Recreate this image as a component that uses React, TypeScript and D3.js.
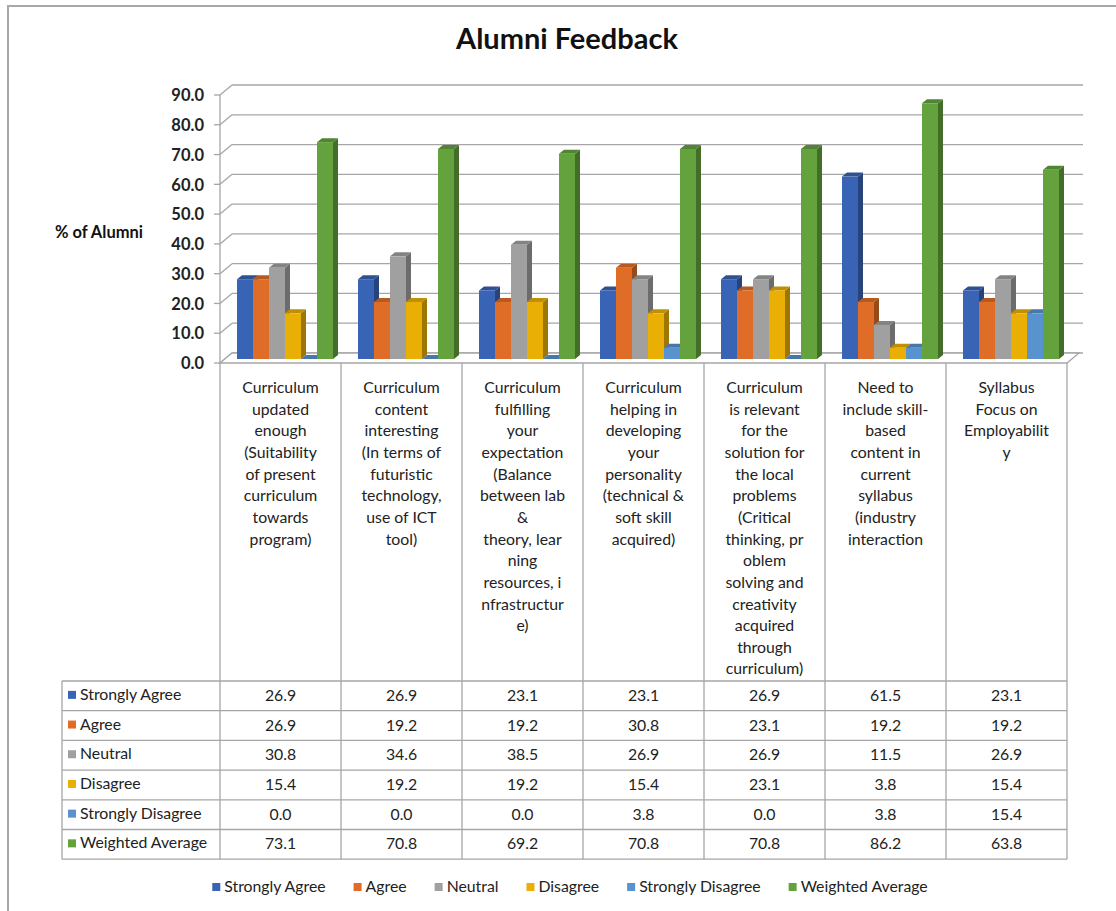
import React, { useEffect, useRef } from "react";
import * as d3 from "d3";

const categories = [
  "Curriculum\nupdated\nenough\n(Suitability\nof present\ncurriculum\ntowards\nprogram)",
  "Curriculum\ncontent\ninteresting\n(In terms of\nfuturistic\ntechnology,\nuse of ICT\ntool)",
  "Curriculum\nfulfilling\nyour\nexpectation\n(Balance\nbetween lab\n&\ntheory, lear\nning\nresources, i\nnfrastructur\ne)",
  "Curriculum\nhelping in\ndeveloping\nyour\npersonality\n(technical &\nsoft skill\nacquired)",
  "Curriculum\nis relevant\nfor the\nsolution for\nthe local\nproblems\n(Critical\nthinking, pr\noblem\nsolving and\ncreativity\nacquired\nthrough\ncurriculum)",
  "Need to\ninclude skill-\nbased\ncontent in\ncurrent\nsyllabus\n(industry\ninteraction",
  "Syllabus\nFocus on\nEmployabilit\ny",
];

const seriesNames = [
  "Strongly Agree",
  "Agree",
  "Neutral",
  "Disagree",
  "Strongly Disagree",
  "Weighted Average",
];

const stronglyAgree = [26.9, 26.9, 23.1, 23.1, 26.9, 61.5, 23.1];
const agree = [26.9, 19.2, 19.2, 30.8, 23.1, 19.2, 19.2];
const neutral = [30.8, 34.6, 38.5, 26.9, 26.9, 11.5, 26.9];
const disagree = [15.4, 19.2, 19.2, 15.4, 23.1, 3.8, 15.4];
const stronglyDisagree = [0.0, 0.0, 0.0, 3.8, 0.0, 3.8, 15.4];
const weightedAverage = [73.1, 70.8, 69.2, 70.8, 70.8, 86.2, 63.8];

const yTicks = [0, 10, 20, 30, 40, 50, 60, 70, 80, 90];

const seriesColors = ["#3963B4", "#E06D27", "#A0A0A0", "#EAAF05", "#5892CF", "#63A23C"];

const FONT = "Lato, 'Open Sans', sans-serif";
const FS = 15.8;

export default function App() {
  const ref = useRef<SVGSVGElement | null>(null);

  useEffect(() => {
    const svg = d3.select(ref.current);
    svg.selectAll("*").remove();

    const series = [stronglyAgree, agree, neutral, disagree, stronglyDisagree, weightedAverage];

    // outer border
    svg.append("rect").attr("x", 8).attr("y", 6).attr("width", 1300).attr("height", 1200)
      .attr("fill", "#fff").attr("stroke", "#a8a8a8").attr("stroke-width", 2);

    // title
    svg.append("text").attr("x", 567).attr("y", 49).attr("text-anchor", "middle")
      .attr("font-family", FONT).attr("font-weight", "bold").attr("font-size", 29)
      .attr("fill", "#111").text("Alumni Feedback");

    // axis title
    svg.append("text").attr("x", 55).attr("y", 238)
      .attr("font-family", FONT).attr("font-weight", "bold").attr("font-size", 16.5)
      .attr("fill", "#111").text("% of Alumni");

    const left = 220, right = 1067;
    const DX = 12, DY = -10;
    const x = d3.scaleBand<number>().domain(d3.range(categories.length)).range([left, right]).paddingInner(0).paddingOuter(0);
    const xs = d3.scaleBand<string>().domain(seriesNames).range([17, 113]);
    const yFront = d3.scaleLinear().domain([0, 90]).range([363, 95]);
    const yBack = d3.scaleLinear().domain([0, 90]).range([363 + DY, 95 + DY]);
    const yBar = d3.scaleLinear().domain([0, 90]).range([359, 92]);

    const gridColor = "#a6a6a6";
    yTicks.forEach((t) => {
      svg.append("line").attr("x1", left + DX).attr("x2", right + DX + 4)
        .attr("y1", yBack(t)).attr("y2", yBack(t))
        .attr("stroke", gridColor).attr("stroke-width", 1.3);
      svg.append("line").attr("x1", left).attr("y1", yFront(t)).attr("x2", left + DX).attr("y2", yBack(t))
        .attr("stroke", gridColor).attr("stroke-width", 1.3);
      svg.append("line").attr("x1", left - 6).attr("x2", left).attr("y1", yFront(t)).attr("y2", yFront(t))
        .attr("stroke", gridColor).attr("stroke-width", 1.3);
      svg.append("text").attr("x", 204).attr("y", yFront(t) + 2).attr("text-anchor", "end")
        .attr("dominant-baseline", "middle")
        .attr("font-family", FONT).attr("font-weight", "bold").attr("font-size", 16.5)
        .attr("fill", "#222").text(d3.format(".1f")(t));
    });
    svg.append("line").attr("x1", left).attr("x2", left).attr("y1", yFront(90)).attr("y2", yFront(0))
      .attr("stroke", gridColor).attr("stroke-width", 1.3);

    // floor
    svg.append("path")
      .attr("d", `M${left},${yFront(0)} L${right},${yFront(0)} L${right + DX},${yBack(0)} L${left + DX},${yBack(0)} Z`)
      .attr("fill", "#fff").attr("stroke", gridColor).attr("stroke-width", 1.3);

    // bars
    const bw = xs.bandwidth();
    const bdx = 5, bdy = -4;
    const base = yBar(0);
    categories.forEach((_, ci) => {
      series.forEach((vals, si) => {
        const v = vals[ci];
        const x0 = (x(ci) as number) + (xs(seriesNames[si]) as number);
        const yt = yBar(v);
        const c = d3.color(seriesColors[si])!;
        const g = svg.append("g");
        g.append("path")
          .attr("d", `M${x0 + bw},${yt} L${x0 + bw + bdx},${yt + bdy} L${x0 + bw + bdx},${base + bdy} L${x0 + bw},${base} Z`)
          .attr("fill", c.darker(1.1).toString());
        g.append("path")
          .attr("d", `M${x0},${yt} L${x0 + bdx},${yt + bdy} L${x0 + bw + bdx},${yt + bdy} L${x0 + bw},${yt} Z`)
          .attr("fill", c.darker(0.55).toString());
        g.append("rect").attr("x", x0).attr("y", yt).attr("width", bw).attr("height", base - yt)
          .attr("fill", seriesColors[si]);
      });
    });

    // category area vertical lines
    const tableTop = 681, rowH = 29.7;
    const tableBottom = tableTop + rowH * seriesNames.length;
    d3.range(categories.length + 1).forEach((i) => {
      const xx = left + i * x.bandwidth();
      svg.append("line").attr("x1", xx).attr("x2", xx).attr("y1", yFront(0)).attr("y2", tableBottom)
        .attr("stroke", gridColor).attr("stroke-width", 1.3);
    });

    // category labels
    categories.forEach((cat, ci) => {
      const cx = (x(ci) as number) + x.bandwidth() / 2;
      const t = svg.append("text").attr("text-anchor", "middle")
        .attr("font-family", FONT).attr("font-size", FS).attr("fill", "#222");
      cat.split("\n").forEach((line, li) => {
        t.append("tspan").attr("x", cx).attr("y", 393 + li * 21.65).text(line);
      });
    });

    // table
    const tLeft = 62;
    d3.range(seriesNames.length + 1).forEach((r) => {
      const yy = tableTop + r * rowH;
      svg.append("line").attr("x1", tLeft).attr("x2", right).attr("y1", yy).attr("y2", yy)
        .attr("stroke", gridColor).attr("stroke-width", 1.3);
    });
    svg.append("line").attr("x1", tLeft).attr("x2", tLeft).attr("y1", tableTop).attr("y2", tableBottom)
      .attr("stroke", gridColor).attr("stroke-width", 1.3);

    seriesNames.forEach((name, si) => {
      const cy = tableTop + si * rowH + rowH / 2;
      svg.append("rect").attr("x", 68).attr("y", cy - 5).attr("width", 8).attr("height", 8)
        .attr("fill", seriesColors[si]);
      svg.append("text").attr("x", 80).attr("y", cy).attr("dominant-baseline", "middle")
        .attr("font-family", FONT).attr("font-size", FS).attr("fill", "#222").text(name);
      series[si].forEach((v, ci) => {
        const cx = (x(ci) as number) + x.bandwidth() / 2;
        svg.append("text").attr("x", cx).attr("y", cy + 1).attr("text-anchor", "middle")
          .attr("dominant-baseline", "middle")
          .attr("font-family", FONT).attr("font-size", FS).attr("fill", "#222")
          .text(d3.format(".1f")(v));
      });
    });

    // legend
    const legendY = 888;
    let lx = 205;
    const gap = 28;
    const lg = svg.append("g");
    seriesNames.forEach((name, si) => {
      lg.append("rect").attr("x", lx).attr("y", legendY - 5).attr("width", 8).attr("height", 8)
        .attr("fill", seriesColors[si]);
      const tx = lg.append("text").attr("x", lx + 12).attr("y", legendY).attr("dominant-baseline", "middle")
        .attr("font-family", FONT).attr("font-size", FS).attr("fill", "#222").text(name);
      const w = (tx.node() as SVGTextElement).getComputedTextLength();
      lx += 12 + w + gap;
    });
    const totalW = lx - gap - 205;
    const shift = 570 - (205 + totalW / 2);
    lg.attr("transform", `translate(${shift},0)`);
  }, []);

  return (
    <svg
      ref={ref}
      width={1116}
      height={911}
      style={{ position: "absolute", left: 0, top: 0, background: "#fff" }}
    />
  );
}
